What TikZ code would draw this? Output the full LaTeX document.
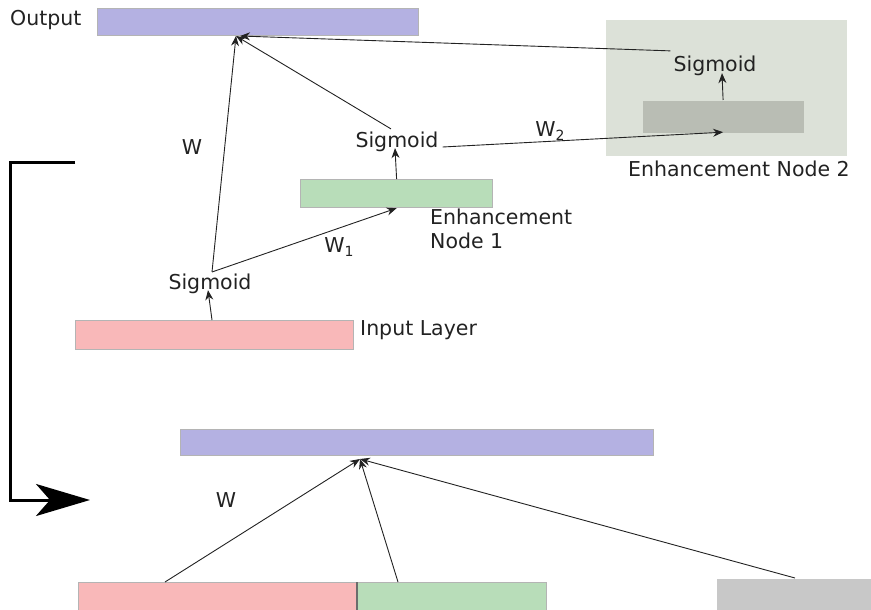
\documentclass[tikz,border=0pt]{standalone}
\usepackage{fontspec}
\setmainfont{DejaVu Sans}
\usetikzlibrary{arrows.meta,calc}
\definecolor{lav}{HTML}{B4B1E2}
\definecolor{pinkc}{HTML}{F9B8B9}
\definecolor{greenc}{HTML}{B8DDB9}
\definecolor{grayc}{HTML}{C8C8C8}
\definecolor{enhbg}{HTML}{DCE1D8}
\definecolor{enhin}{HTML}{B9BDB4}
\definecolor{edge}{HTML}{B4B4B4}
\definecolor{ink}{HTML}{222222}
\newcommand{\wsub}[1]{W\raisebox{-4pt}{\fontsize{14}{16}\selectfont #1}}
\begin{document}
\begin{tikzpicture}[x=1pt,y=-1pt,
  layer/.style={draw=edge,line width=1.2pt,inner sep=0pt,anchor=north west},
  lbl/.style={inner sep=0pt,text=ink,font=\fontsize{20.5}{24}\selectfont},
  conn/.style={draw=ink,line width=0.9pt,-{Stealth[length=10pt,width=8pt]}},
  link/.style={draw=ink,line width=0.9pt}]
\useasboundingbox (0,0) rectangle (871,610);

% enhancement node 2 panel
\node[fill=enhbg,inner sep=0pt,anchor=north west,minimum width=241pt,minimum height=136pt] (enh2bg) at (606,20) {};
\node[layer,draw=none,fill=enhin,minimum width=161pt,minimum height=32pt] (enh2) at (642,100) {};
\node[lbl] (sigC) at (715,66) {Sigmoid};
\node[lbl,anchor=north] (enh2lbl) at (739,161) {Enhancement Node 2};

% first network
\node[layer,fill=lav,minimum width=321pt,minimum height=27pt] (out) at (97,8) {};
\node[lbl,anchor=west] (outlbl) at (10,20) {Output};
\node[layer,fill=greenc,minimum width=192pt,minimum height=28pt] (enh1) at (300,179) {};
\node[lbl,align=left,anchor=north west] (enh1lbl) at (430,209) {Enhancement\\Node 1};
\node[lbl] (sigB) at (397,142) {Sigmoid};
\node[layer,fill=pinkc,minimum width=278pt,minimum height=29pt] (inp) at (75,320) {};
\node[lbl,anchor=west] (inplbl) at (360,330) {Input Layer};
\node[lbl] (sigA) at (210,284) {Sigmoid};
\node[lbl] (wA) at (192,147) {W};
\node[lbl] (w1) at (339,247) {\wsub{1}};
\node[lbl] (w2) at (550,131) {\wsub{2}};

\coordinate (hub) at (236,36);
\coordinate (sigAtop) at (212,272);
\draw[conn] (inp.north -| sigAtop) -- ($(sigA.south)+(-2,-4)$);
\draw[conn] (sigAtop) -- (hub);
\draw[conn] (sigAtop) -- (enh1.south);
\draw[conn] (enh1.north) -- ($(sigB.south)+(-2,-4)$);
\draw[conn] ($(sigB.north)+(-6,-3)$) -- (hub);
\draw[conn] ($(sigB.east)+(4,5)$) -- ($(enh2.south)+(0,-1)$);
\draw[conn] (enh2.north) -- ($(sigC.south)+(7,-3)$);
\draw[conn] ($(sigC.north west)+(-3,-5)$) -- ($(hub)+(4,0)$);

% transition arrow
\coordinate (brk) at (75,162);
\coordinate (tip) at (90,500);
\draw[line width=3pt,line join=miter,-{Stealth[length=54pt,width=32pt,inset=14pt]}]
  (brk) -- (10,162) -- (10,500) -- (tip);

% combined network
\node[layer,fill=lav,minimum width=473pt,minimum height=26pt] (out2) at (180,429) {};
\node[layer,fill=pinkc,minimum width=279pt,minimum height=40pt] (inp2) at (78,582) {};
\node[layer,fill=greenc,minimum width=189pt,minimum height=40pt] (enh2b) at (357,582) {};
\node[layer,fill=grayc,draw=none,minimum width=160pt,minimum height=40pt] (gray2) at (716,578) {};
\draw[draw=edge!60!black,line width=1.2pt] (enh2b.north west) -- (enh2b.south west);
\node[lbl] (w3) at (226,500) {W};
\coordinate (hub2) at (360,459);
\draw[conn] ($(inp2.north west)+(87,0)$) -- (hub2);
\draw[conn] ($(enh2b.north west)+(41,0)$) -- (hub2);
\draw[conn] ($(gray2.north west)+(79,0)$) -- (hub2);
\end{tikzpicture}
\end{document}
